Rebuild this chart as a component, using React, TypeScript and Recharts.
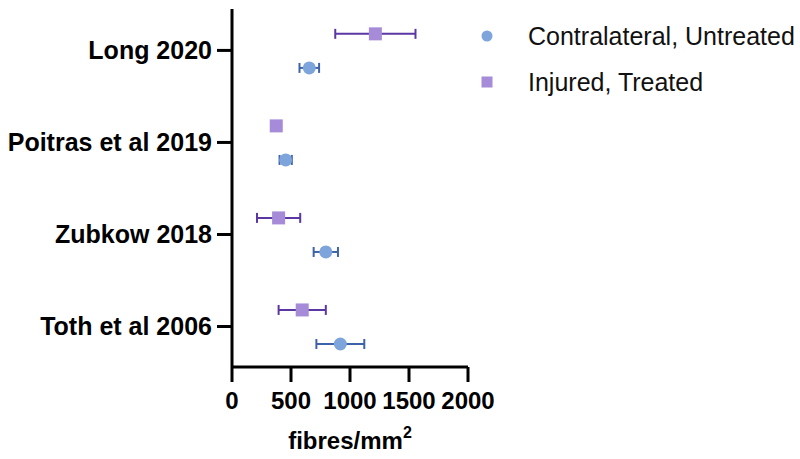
import { ScatterChart, Scatter, XAxis, YAxis, ErrorBar, Legend, Label } from 'recharts'

// studies listed top to bottom
const studies = ['Long 2020', 'Poitras et al 2019', 'Zubkow 2018', 'Toth et al 2006']
const untreatedMean = [655, 455, 795, 918]
const untreatedSD = [83, 52, 103, 203]
const treatedMean = [1215, 375, 395, 595]
const treatedSD = [340, 30, 183, 200]
const xTicks = [0, 500, 1000, 1500, 2000]
const seriesNames = ['Contralateral, Untreated', 'Injured, Treated']

const BLUE = '#7ea4dc'
const BLUE_BAR = '#3f63a9'
const PURPLE = '#a68bd9'
const PURPLE_BAR = '#5b37a3'
const FONT = '"Liberation Sans", Arial, sans-serif'

// each study sits on an integer row; the two groups are nudged above/below it
const rowOf = (i: number) => studies.length - 1 - i

const untreated = studies.map((s, i) => ({
  study: s,
  x: untreatedMean[i],
  err: untreatedSD[i],
  y: rowOf(i) - 0.19,
}))
const treated = studies.map((s, i) => ({
  study: s,
  x: treatedMean[i],
  err: treatedSD[i],
  y: rowOf(i) + 0.18,
}))

const Dot = (p: any) => <circle cx={p.cx} cy={p.cy} r={6.5} fill={BLUE} />
const Square = (p: any) => (
  <rect x={p.cx - 6.5} y={p.cy - 6.5} width={13} height={13} fill={PURPLE} />
)

const renderLegend = () => (
  <div style={{ fontFamily: FONT }}>
    {seriesNames.map((name, i) => (
      <div key={name} style={{ display: 'flex', alignItems: 'center', height: 46 }}>
        <svg width={34} height={14}>
          {i === 0 ? (
            <circle cx={17} cy={7} r={5.5} fill={BLUE} />
          ) : (
            <rect x={11.5} y={1.5} width={11} height={11} fill={PURPLE} />
          )}
        </svg>
        <span style={{ marginLeft: 24, fontSize: 25, color: '#111' }}>{name}</span>
      </div>
    ))}
  </div>
)

const renderAxisTitle = (props: any) => {
  const vb = props.viewBox
  return (
    <text
      x={vb.x + vb.width / 2}
      y={449}
      textAnchor="middle"
      fontSize={24}
      fontWeight="bold"
      fontFamily={FONT}
      fill="#000"
    >
      fibres/mm
      <tspan fontSize={16} dy={-11}>
        2
      </tspan>
    </text>
  )
}

const axisStroke = { stroke: '#000', strokeWidth: 3 }
const xTickStyle = { fill: '#000', fontSize: 24, fontWeight: 'bold', fontFamily: FONT }
const yTickStyle = { ...xTickStyle, fontSize: 25 }

export default function App() {
  return (
    <div style={{ position: 'absolute', left: 0, top: 0 }}>
      <ScatterChart
        width={800}
        height={459}
        margin={{ top: 9, right: 332, bottom: 32, left: 0 }}
        style={{ fontFamily: FONT }}
      >
        <XAxis
          type="number"
          dataKey="x"
          domain={[0, 2000]}
          ticks={xTicks}
          interval={0}
          height={60}
          tickSize={15}
          tickMargin={10}
          axisLine={axisStroke}
          tickLine={axisStroke}
          tick={xTickStyle}
        >
          <Label content={renderAxisTitle} />
        </XAxis>
        <YAxis
          type="number"
          dataKey="y"
          domain={[-0.44, 3.45]}
          allowDataOverflow
          ticks={[0, 1, 2, 3]}
          interval={0}
          width={232}
          tickSize={15}
          tickMargin={5}
          axisLine={axisStroke}
          tickLine={axisStroke}
          tick={yTickStyle}
          tickFormatter={(v: number) => studies[studies.length - 1 - v]}
        />
        <Legend
          layout="vertical"
          align="center"
          verticalAlign="middle"
          wrapperStyle={{ left: 470, top: 13, width: 330 }}
          content={renderLegend}
        />
        <Scatter
          name={seriesNames[0]}
          data={untreated}
          fill={BLUE}
          shape={Dot}
          isAnimationActive={false}
        >
          <ErrorBar dataKey="err" direction="x" width={5} stroke={BLUE_BAR} strokeWidth={2} />
        </Scatter>
        <Scatter
          name={seriesNames[1]}
          data={treated}
          fill={PURPLE}
          shape={Square}
          isAnimationActive={false}
        >
          <ErrorBar dataKey="err" direction="x" width={5} stroke={PURPLE_BAR} strokeWidth={2} />
        </Scatter>
      </ScatterChart>
    </div>
  )
}
